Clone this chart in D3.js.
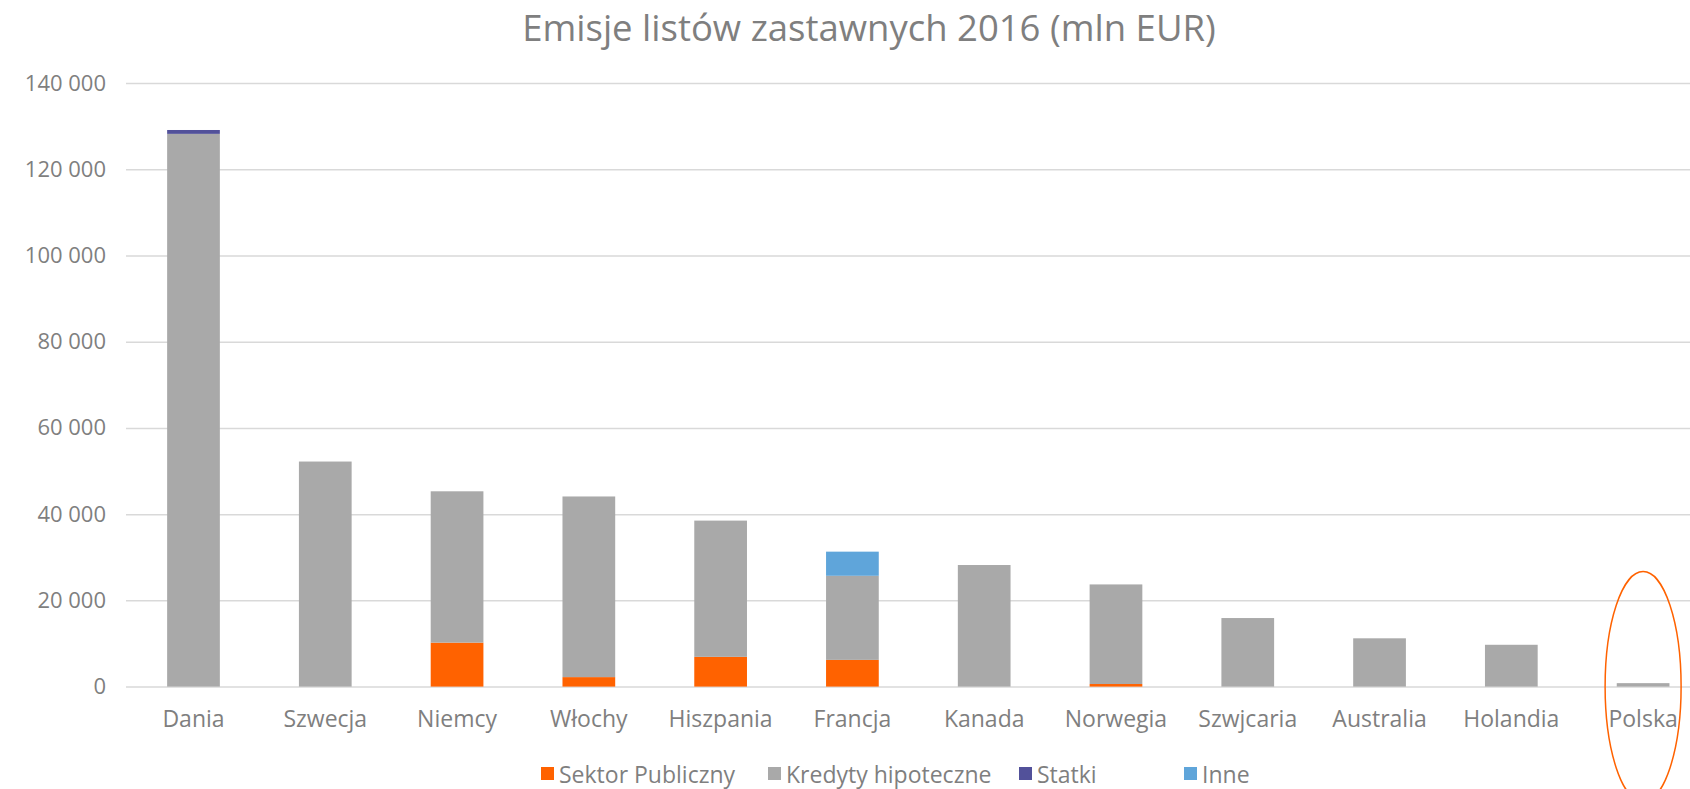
<!DOCTYPE html>
<html>
<head>
<meta charset="utf-8">
<script src="https://cdn.jsdelivr.net/npm/d3@7"></script>
<style>
  body { margin: 0; background: #fff; }
  svg { display: block; font-family: "Open Sans", sans-serif; }
</style>
</head>
<body>
<svg id="chart" width="1690" height="789"></svg>
<script>
const categories = ["Dania", "Szwecja", "Niemcy", "Włochy", "Hiszpania", "Francja", "Kanada", "Norwegia", "Szwjcaria", "Australia", "Holandia", "Polska"];
const sektorPubliczny = [0, 0, 10200, 2200, 6900, 6200, 0, 600, 0, 0, 0, 0];
const kredytyHipoteczne = [128200, 52200, 35100, 41900, 31600, 19500, 28200, 23100, 15900, 11200, 9700, 800];
const statki = [900, 0, 0, 0, 0, 0, 0, 0, 0, 0, 0, 0];
const inne = [0, 0, 0, 0, 0, 5600, 0, 0, 0, 0, 0, 0];
const yTicks = [0, 20000, 40000, 60000, 80000, 100000, 120000, 140000];
const seriesNames = ["Sektor Publiczny", "Kredyty hipoteczne", "Statki", "Inne"];
const seriesColors = ["#ff6200", "#a9a9a9", "#52519a", "#5fa5da"];

const svg = d3.select("#chart");
const textColor = "#7f7f7f";

const rows = categories.map((c, i) => ({
  country: c,
  "Sektor Publiczny": sektorPubliczny[i],
  "Kredyty hipoteczne": kredytyHipoteczne[i],
  "Statki": statki[i],
  "Inne": inne[i]
}));

const x = d3.scaleBand()
  .domain(categories)
  .range([127.6, 1709])
  .paddingInner(0.6)
  .paddingOuter(0.3);

const y = d3.scaleLinear()
  .domain([0, 140000])
  .range([686.6, 83]);

const color = d3.scaleOrdinal().domain(seriesNames).range(seriesColors);

const fmt = d3.formatLocale({ decimal: ",", thousands: " ", grouping: [3], currency: ["", ""] }).format(",d");

// title
svg.append("text")
  .attr("x", 869)
  .attr("y", 41)
  .attr("text-anchor", "middle")
  .attr("fill", textColor)
  .style("font-size", "36.5px")
  .text("Emisje listów zastawnych 2016 (mln EUR)");

// y axis with gridlines
const yAxis = svg.append("g")
  .attr("transform", "translate(126,0)")
  .call(d3.axisLeft(y).tickValues(yTicks).tickFormat(fmt).tickSize(-1600).tickPadding(20));
yAxis.select(".domain").remove();
yAxis.selectAll(".tick line").attr("stroke", "#d9d9d9").attr("stroke-width", 1.5);
yAxis.selectAll(".tick text")
  .attr("fill", textColor)
  .style("font-size", "22px")
  .style("font-family", "'Open Sans', sans-serif");

// stacked bars
const stacked = d3.stack().keys(seriesNames)(rows);

svg.append("g")
  .selectAll("g")
  .data(stacked)
  .join("g")
  .attr("fill", d => color(d.key))
  .selectAll("rect")
  .data(d => d.filter(p => p[1] - p[0] > 0))
  .join("rect")
  .attr("x", d => x(d.data.country))
  .attr("y", d => y(d[1]))
  .attr("width", x.bandwidth())
  .attr("height", d => y(d[0]) - y(d[1]));

// x axis labels
const xAxis = svg.append("g")
  .attr("transform", `translate(0,${y(0)})`)
  .call(d3.axisBottom(x).tickSize(0).tickPadding(24));
xAxis.select(".domain").remove();
xAxis.selectAll(".tick text")
  .attr("fill", textColor)
  .style("font-size", "23px")
  .style("font-family", "'Open Sans', sans-serif");

// highlight around Polska
svg.append("ellipse")
  .attr("cx", x("Polska") + x.bandwidth() / 2)
  .attr("cy", y(0))
  .attr("rx", 38)
  .attr("ry", 115)
  .attr("fill", "none")
  .attr("stroke", "#ff6200")
  .attr("stroke-width", 1.5);

// legend
const legendX = [541, 768, 1019, 1184];
const legend = svg.append("g");
seriesNames.forEach((name, i) => {
  legend.append("rect")
    .attr("x", legendX[i])
    .attr("y", 767)
    .attr("width", 13)
    .attr("height", 13)
    .attr("fill", seriesColors[i]);
  legend.append("text")
    .attr("x", legendX[i] + 18)
    .attr("y", 783)
    .attr("fill", textColor)
    .style("font-size", "23px")
    .text(name);
});
</script>
</body>
</html>
